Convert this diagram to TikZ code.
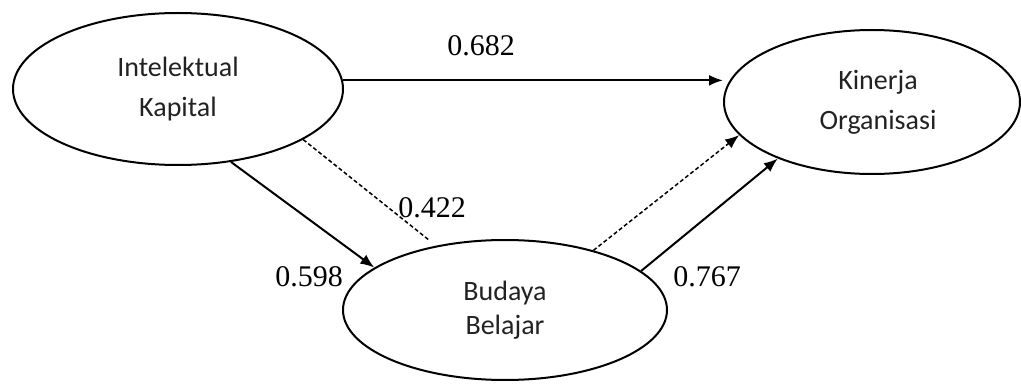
\documentclass[tikz,border=0pt]{standalone}
\usepackage{fontspec}
\usetikzlibrary{shapes.geometric,arrows.meta}
\newfontfamily\nodefont{Carlito}
\newfontfamily\numfont{Liberation Serif}
\definecolor{txtc}{HTML}{222222}
\begin{document}
\begin{tikzpicture}[x=1pt,y=-1pt,
  latent/.style={draw=black, line width=2pt, ellipse, inner sep=0pt, align=center,
    text=txtc, font=\nodefont\fontsize{28}{40}\selectfont},
  coef/.style={inner sep=0pt, text=black, font=\numfont\fontsize{30}{34}\selectfont},
  path/.style={draw=black, line width=2pt, -{Latex[length=14pt,width=11pt]}},
  dashpath/.style={draw=black, line width=1.5pt, dash pattern=on 4pt off 2.5pt}
]
\useasboundingbox (0,0) rectangle (1021,385);
\node[latent, minimum width=330pt, minimum height=152pt] (IK) at (178,89) {Intelektual\\Kapital};
\node[latent, minimum width=296pt, minimum height=144pt] (KO) at (872,102) {\hspace*{12pt}Kinerja\\\hspace*{12pt}Organisasi};
\node[latent, minimum width=324pt, minimum height=140pt, font=\nodefont\fontsize{28}{34}\selectfont] (BB) at (505,310) {Budaya\\Belajar};

\draw[path] (IK.3) -- (IK.3 -| KO.west);
\draw[path] (IK.-54.9) -- (BB.162.9);
\draw[dashpath, shorten >=9pt] (IK.-22.2) -- (BB.137);
\draw[path, dashpath, -{Latex[length=14pt,width=11pt]}] (BB.34.3) -- (KO.194.9);
\draw[path] (BB.16.7) -- (KO.211.7);

\node[coef] (c1) at (481,46) {0.682};
\node[coef] (c2) at (432,208) {0.422};
\node[coef] (c3) at (309,277) {0.598};
\node[coef] (c4) at (707,277) {0.767};
\end{tikzpicture}
\end{document}
